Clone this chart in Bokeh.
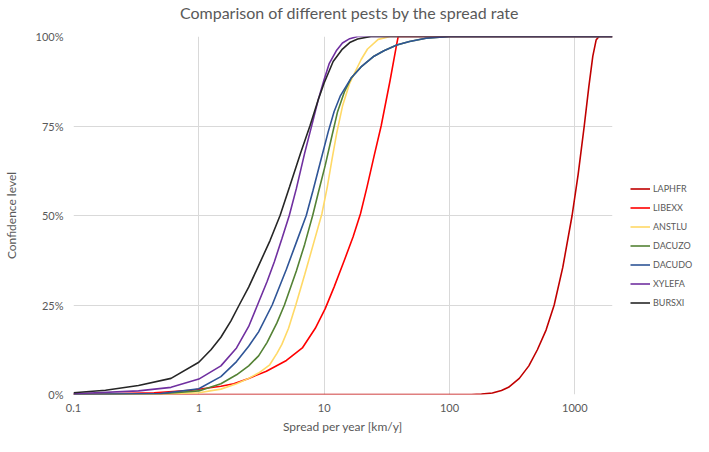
from bokeh.plotting import figure
from bokeh.models import FixedTicker, Legend, LegendItem, Range1d, Label
from bokeh.layouts import row, column
from bokeh.embed import file_html
from bokeh.resources import INLINE

# ---------------- data ----------------
series_names = ["LAPHFR", "LIBEXX", "ANSTLU", "DACUZO", "DACUDO", "XYLEFA", "BURSXI"]
series_colors = ["#C00000", "#FF0000", "#FFD966", "#548235", "#2F5597", "#7030A0", "#262626"]

laphfr_x = [0.1, 150, 180, 220, 260, 296, 361, 430, 503, 590, 685, 802, 952, 1064, 1190, 1295, 1393, 1480, 1560]
laphfr_y = [0, 0, 0.1, 0.4, 1.1, 2, 4.5, 8, 12.5, 18, 25, 35.5, 50, 61.5, 75, 86, 94.5, 99, 100]

libexx_x = [0.1, 0.44, 0.87, 1.5, 1.9, 2.5, 3.46, 5.0, 6.7, 8.5, 10.2, 12, 14.5, 17, 19.5, 22, 25, 28.5, 33.5, 38, 39, 2000]
libexx_y = [0, 0.5, 1.2, 2.3, 3, 4.5, 6.5, 9.5, 13, 18.5, 24, 30, 37.5, 44, 50.5, 58, 66.5, 75, 87.5, 98, 100, 100]

anstlu_x = [0.1, 0.5, 1, 1.5, 2, 2.5, 3, 3.68, 4.2, 4.6, 5.2, 5.94, 7, 8.2, 9.6, 10.6, 11.6, 12.6, 14, 16, 19.7, 22.2, 27, 33.7, 2000]
anstlu_y = [0, 0.1, 0.5, 1.5, 3, 4.5, 6, 8.3, 11.5, 14, 18.5, 25, 33.5, 42, 50.5, 58, 66, 73, 80.5, 87, 93.5, 96.5, 99.2, 100, 100]

dacuzo_x = [0.1, 0.5, 1, 1.5, 2, 2.5, 3, 3.5, 4.2, 4.82, 6, 7, 8.1, 9, 10.2, 11.5, 12.8, 14.5, 16.5, 19.7, 25, 30, 38, 48, 65, 100, 2000]
dacuzo_y = [0, 0.2, 1, 3, 5.5, 8, 10.8, 14.5, 20, 25, 34.5, 42, 50, 56.5, 64, 72, 79, 84.5, 88.5, 91.5, 94.5, 96, 97.6, 98.6, 99.5, 100, 100]

dacudo_x = [0.1, 0.5, 1, 1.5, 2, 2.5, 3, 3.85, 5, 6, 7.2, 8.15, 9.5, 10.8, 12, 13.5, 16.5, 19.7, 25, 30, 38, 48, 65, 100, 2000]
dacudo_y = [0, 0.3, 1.6, 5, 9.2, 13.5, 17.5, 25, 35, 42.5, 50, 57, 66, 73.5, 79, 83.5, 88.5, 91.5, 94.5, 96, 97.6, 98.6, 99.5, 100, 100]

xylefa_x = [0.1, 0.33, 0.6, 1, 1.5, 2, 2.5, 2.9, 3.5, 4, 4.6, 5.27, 6, 7, 8.15, 9, 10, 11, 12.5, 14, 16, 18.5, 2000]
xylefa_y = [0.2, 1, 2, 4.3, 8, 13, 19, 24.5, 31.5, 37, 43.5, 50, 57.5, 67.5, 76.5, 82.5, 88, 92.5, 96, 98.2, 99.4, 100, 100]

bursxi_x = [0.1, 0.18, 0.33, 0.6, 1, 1.25, 1.5, 1.8, 2.1, 2.5, 3, 3.7, 4.45, 5.3, 6.5, 7.7, 9, 10, 11.8, 14, 16, 18.5, 23.6, 2000]
bursxi_y = [0.5, 1.2, 2.5, 4.5, 9, 12.5, 16, 20.5, 25, 30, 36, 43, 50, 58, 67.5, 75, 82.5, 87, 93, 96.5, 98.3, 99.3, 100, 100]

series_x = [laphfr_x, libexx_x, anstlu_x, dacuzo_x, dacudo_x, xylefa_x, bursxi_x]
series_y = [laphfr_y, libexx_y, anstlu_y, dacuzo_y, dacudo_y, xylefa_y, bursxi_y]

x_tick_values = [0.1, 1, 10, 100, 1000]
x_tick_labels = ["0.1", "1", "10", "100", "1000"]
y_tick_values = [0, 0.25, 0.5, 0.75, 1]
y_tick_labels = ["0%", "25%", "50%", "75%", "100%"]

title_text = "Comparison of different pests by the spread rate"
x_title = "Spread per year [km/y]"
y_title = "Confidence level"

FONT = "Lato"
GREY = "#595959"


def blank_figure(w, h):
    f = figure(width=w, height=h, x_range=Range1d(0, 1), y_range=Range1d(0, 1),
               output_backend="svg", toolbar_location=None,
               x_axis_location=None, y_axis_location=None,
               min_border_left=0, min_border_right=0, min_border_top=0, min_border_bottom=0)
    f.outline_line_color = None
    f.xgrid.visible = False
    f.ygrid.visible = False
    f.background_fill_color = "white"
    f.border_fill_color = "white"
    return f


# ---------------- title strip ----------------
tf = blank_figure(693, 24)
tf.add_layout(Label(x=349, y=12, x_units="screen", y_units="screen", text=title_text,
                    text_align="center", text_baseline="middle", text_font=FONT,
                    text_font_size="16px", text_color=GREY))

# ---------------- main figure ----------------
p = figure(width=614, height=412, x_axis_type="log",
           x_range=Range1d(0.1, 2000), y_range=Range1d(0, 1),
           output_backend="svg", toolbar_location=None,
           min_border_left=66, min_border_right=2, min_border_top=12, min_border_bottom=38)
p.outline_line_color = None
p.background_fill_color = "white"
p.border_fill_color = "white"

p.xaxis.ticker = FixedTicker(ticks=x_tick_values)
p.xaxis.major_label_overrides = {v: l for v, l in zip(x_tick_values, x_tick_labels)}
p.yaxis.ticker = FixedTicker(ticks=y_tick_values)
p.yaxis.major_label_overrides = {v: l for v, l in zip(y_tick_values, y_tick_labels)}
p.xaxis.axis_label = x_title
p.yaxis.axis_label = y_title
for ax in (p.xaxis, p.yaxis):
    ax.axis_line_color = None
    ax.major_tick_line_color = None
    ax.minor_tick_line_color = None
    ax.major_tick_in = 0
    ax.major_tick_out = 0
    ax.major_label_text_font = FONT
    ax.major_label_text_font_size = "11px"
    ax.major_label_text_color = GREY
    ax.axis_label_text_font = FONT
    ax.axis_label_text_font_size = "12px"
    ax.axis_label_text_font_style = "normal"
    ax.axis_label_text_color = GREY
p.xaxis.major_label_standoff = 9
p.xaxis.axis_label_standoff = 4
p.yaxis.major_label_standoff = 10
p.yaxis.axis_label_standoff = 14

p.xgrid.grid_line_color = "#D9D9D9"
p.ygrid.grid_line_color = "#D9D9D9"
p.xgrid.ticker = FixedTicker(ticks=x_tick_values)
p.ygrid.ticker = FixedTicker(ticks=y_tick_values)

for name, col, xs, ys in zip(series_names, series_colors, series_x, series_y):
    p.line(xs, [v / 100 for v in ys], line_color=col, line_width=1.6)

# ---------------- legend panel (to the right of the plot) ----------------
lg = blank_figure(79, 412)
nan = float("nan")
items = []
for name, col in zip(series_names, series_colors):
    r = lg.line([nan, nan], [nan, nan], line_color=col, line_width=1.6)
    items.append(LegendItem(label=name, renderers=[r]))

legend = Legend(items=items, location=(16, 82), padding=0, spacing=0, margin=0,
                glyph_width=20, glyph_height=19, label_height=19, label_standoff=3,
                label_text_font=FONT, label_text_font_size="9px", label_text_color=GREY,
                border_line_alpha=0, background_fill_alpha=0)
lg.add_layout(legend)

layout = column(tf, row(p, lg, spacing=0), spacing=0)
open("out.html", "w").write(file_html(layout, INLINE))
